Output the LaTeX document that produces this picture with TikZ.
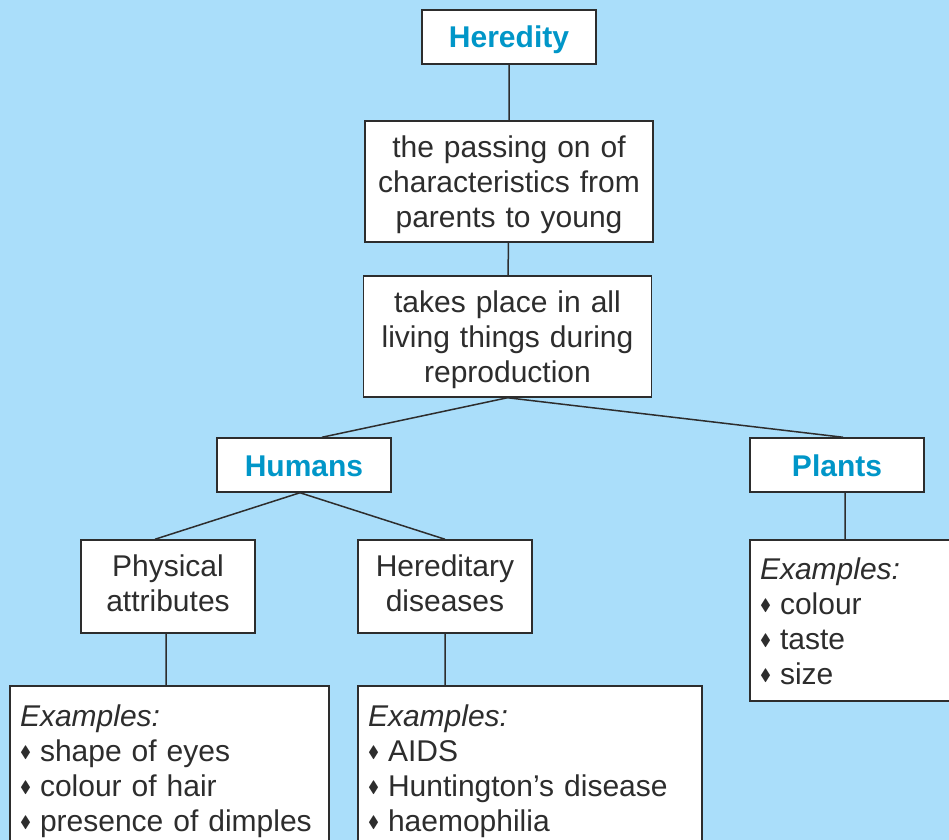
\documentclass[tikz,border=0pt]{standalone}
\usepackage{fontspec}
\usepackage{amssymb}
\setmainfont{Liberation Sans}
\definecolor{skyback}{RGB}{170,222,250}
\definecolor{headblue}{RGB}{0,150,200}
\definecolor{inkgrey}{RGB}{45,45,45}
\newcommand{\bul}{\raisebox{0.25ex}{\scalebox{0.55}{$\blacklozenge$}}\hspace{0.3em}}
\newcommand{\tstrut}{\rule[-3.2pt]{0pt}{17.4pt}}

\begin{document}
\begin{tikzpicture}[x=0.5pt,y=-0.5pt,
  box/.style={draw=inkgrey,fill=white,line width=0.75pt,inner sep=0pt,align=center,
    text=inkgrey,font=\fontsize{15}{17.5}\selectfont,
    execute at begin node=\tstrut,execute at end node=\tstrut},
  head/.style={box,minimum width=87pt,minimum height=27pt,text=headblue,
    font=\fontsize{15}{17.5}\selectfont\bfseries},
  sub/.style={box,minimum width=87pt,minimum height=46.5pt},
  fact/.style={box,text width=144pt,minimum height=60.5pt},
  listbox/.style={box,align=left,inner xsep=5pt,minimum height=82pt}]
\useasboundingbox (0,0) rectangle (949,840);
\clip (0,0) rectangle (949,840);
\fill[skyback] (0,0) rectangle (949,840);

\draw (509,37) node[head] (her) {Heredity} ;

\draw (509,181.5) node[fact] (pass) {the passing on of\\characteristics from\\parents to young} ;
\draw (507.5,336.5) node[fact] (takes) {takes place in all\\living things during\\reproduction} ;

\draw (304,465) node[head] (hum) {Humans} ;
\draw (837,465) node[head] (pla) {Plants} ;

\draw (168,586.5) node[sub] (phys) {Physical\\attributes} ;
\draw (445,586.5) node[sub] (hered) {Hereditary\\diseases} ;

\draw (169.5,768) node[listbox,text width=149.5pt] (physex)
  {\textit{Examples:}\\\bul shape of eyes\\\bul colour of hair\\\bul presence of dimples} ;
\draw (530,768) node[listbox,text width=162pt] (heredex)
  {\textit{Examples:}\\\bul AIDS\\\bul Huntington’s disease\\\bul haemophilia} ;
\draw (860,620.5) node[listbox,text width=100pt,minimum height=80.5pt] (plaex)
  {\textit{Examples:}\\\bul colour\\\bul taste\\\bul size} ;

\draw[inkgrey,line width=0.75pt]
     (her) to (pass)
     (pass) to (takes)

     (takes.south) to ([xshift=9pt]hum.north)
     (takes.south) to ([xshift=3pt]pla.north)

     ([xshift=-2pt]hum.south) to ([xshift=-6.5pt]phys.north)
     ([xshift=-2pt]hum.south) to (hered.north)

     ([xshift=-1pt]phys.south) to ([xshift=-1pt]phys.south |- physex.north)
     (hered.south) to (hered.south |- heredex.north)
     ([xshift=4pt]pla.south) to ([xshift=4pt]pla.south |- plaex.north) ;
\end{tikzpicture}
\end{document}
